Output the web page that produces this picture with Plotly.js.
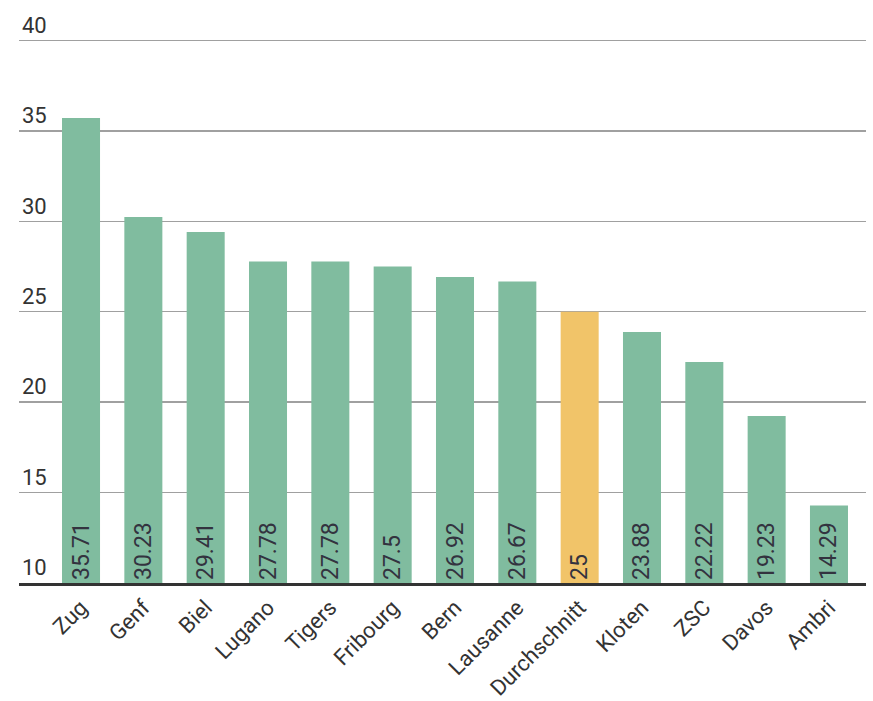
<!DOCTYPE html>
<html>
<head>
<meta charset="utf-8">
<script src="https://cdn.plot.ly/plotly-3.0.1.min.js"></script>
<style>html,body{margin:0;padding:0;background:#fff;}#chart{width:873px;height:701px;}</style>
</head>
<body>
<div id="chart"></div>
<script>
const teams = ["Zug","Genf","Biel","Lugano","Tigers","Fribourg","Bern","Lausanne","Durchschnitt","Kloten","ZSC","Davos","Ambri"];
const values = [35.71,30.23,29.41,27.78,27.78,27.5,26.92,26.67,25,23.88,22.22,19.23,14.29];
const highlight = "Durchschnitt";
const yTicks = [10,15,20,25,30,35,40];
const axisBase = 10;

const colors = teams.map(t => t === highlight ? "#F1C469" : "#80BC9F");

const trace = {
  type: "bar",
  x: teams,
  y: values.map(v => v - axisBase),
  base: axisBase,
  marker: {color: colors},
  text: values.map(v => String(v)),
  textposition: "inside",
  insidetextanchor: "start",
  textangle: -90,
  constraintext: "none",
  textfont: {family: "Roboto", size: 23, color: "#33333F"},
  hoverinfo: "none",
  cliponaxis: false
};

const layout = {
  width: 873, height: 701,
  margin: {l: 19, r: 7, t: 35, b: 118},
  paper_bgcolor: "#fff", plot_bgcolor: "#fff",
  showlegend: false,
  bargap: 0.39,
  font: {family: "Roboto", color: "#333333"},
  xaxis: {
    type: "category",
    range: [-0.995, 12.594],
    tickangle: -45,
    tickfont: {family: "Roboto", size: 22, color: "#333333"},
    showline: true, linecolor: "#333333", linewidth: 3,
    ticks: "", showgrid: false, fixedrange: true
  },
  yaxis: {
    range: [10, 40.3],
    tickvals: yTicks,
    ticktext: yTicks.map(String),
    ticklabelposition: "inside top",
    ticklabeloverflow: "allow",
    tickfont: {family: "Roboto", size: 22, color: "#333333"},
    showgrid: true, gridcolor: "#A0A0A0", gridwidth: 1.5,
    zeroline: false, showline: false, ticks: "", fixedrange: true
  }
};

Plotly.newPlot("chart", [trace], layout, {displayModeBar: false, staticPlot: true});
</script>
</body>
</html>
